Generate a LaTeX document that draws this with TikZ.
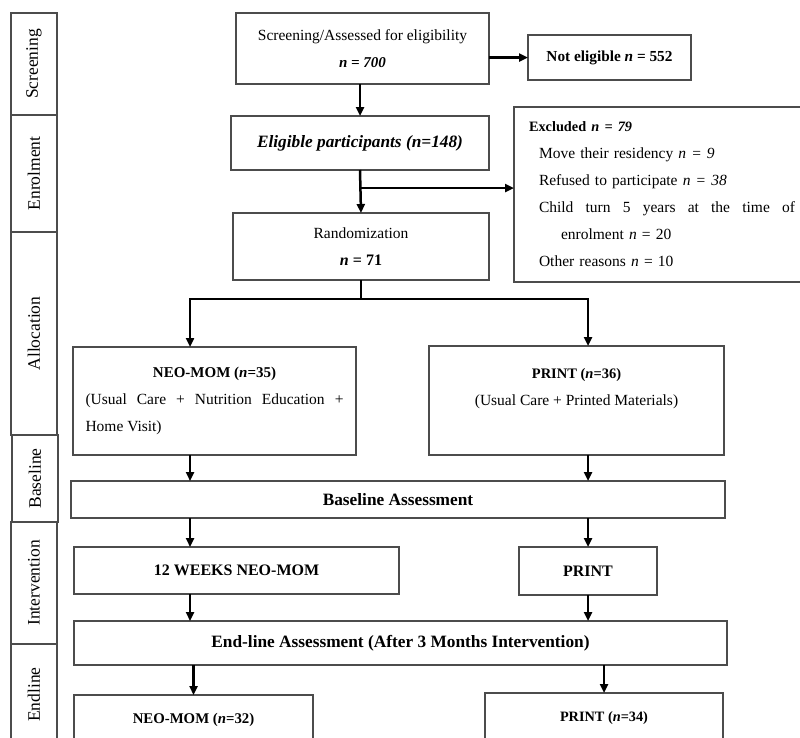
\documentclass[tikz,border=0pt]{standalone}
\usepackage{fontspec}
\setmainfont{Liberation Serif}
\usetikzlibrary{arrows.meta,positioning,calc}
\newcommand\txtsize{\fontsize{15.5}{27}\selectfont}
\newcommand\hdsize[1]{\fontsize{#1}{27}\selectfont\bfseries}
\begin{document}
\begin{tikzpicture}[x=1pt,y=-1pt,outer sep=0pt,
    box/.style={draw=black!70, line width=1.1pt, inner sep=0pt, align=center, font=\txtsize},
    hbox/.style={box, font=\hdsize{#1}}, hbox/.default=15,
    phase/.style={draw=black!70, line width=1.1pt, rotate=90, inner sep=0pt, minimum height=46pt, font=\fontsize{17.5}{20}\selectfont},
    arr/.style={line width=2.5pt, -{Triangle[width=8pt,length=9pt]}},
    trunk/.style={line width=2.5pt}]
    \useasboundingbox (0,0) rectangle (800,737);
    % phase bars on the left
    \node[phase, minimum width=102pt] (phScr) at (34,64)    {Screening};
    \node[phase, minimum width=117pt] (phEnr) at (34,173.5) {Enrolment};
    \node[phase, minimum width=203pt] (phAll) at (34,333.5) {Allocation};
    \node[phase, minimum width=87pt]  (phBas) at (35,478.5) {Baseline};
    \node[phase, minimum width=122pt] (phInt) at (34,583)   {Intervention};
    \node[phase, minimum width=101pt] (phEnd) at (34,694.5) {Endline};
    % flow boxes
    \node[box, minimum width=253pt, minimum height=71pt] (screen) at (362.5,48.5)
      {Screening/Assessed for eligibility\\ {\hdsize{15}\itshape n = 700}};
    \node[hbox=15.3, minimum width=163pt, minimum height=45pt] (notelig) at (609.5,57.5)
      {Not eligible \textit{n} = 552};
    \node[hbox=17.3, minimum width=258pt, minimum height=54pt] (elig) at (360,143)
      {\textit{Eligible participants (n=148)}};
    \node[box, anchor=north west, align=left, text width=281pt, inner xsep=15pt,
      minimum height=175pt] (excl) at (514,107)
      {{\hdsize{14.3}Excluded \textit{n = 79}}\\
       \hspace*{10pt}Move their residency \textit{n = 9}\\
       \hspace*{10pt}Refused to participate \textit{n = 38}\\
       \hspace*{10pt}\hbox to 256pt{Child\hfill turn\hfill 5\hfill years\hfill at\hfill the\hfill time\hfill of}\\
       \hspace*{32pt}enrolment \textit{n} = 20\\
       \hspace*{10pt}Other reasons \textit{n} = 10};
    \node[box, minimum width=256pt, minimum height=67pt] (rand) at (361,246.5)
      {Randomization\\ {\hdsize{16}\textit{n} = 71}};
    \node[box, align=left, minimum width=283pt, minimum height=108pt] (neo) at (214.5,401)
      {\hbox to 258pt{\hfill\hdsize{15}NEO-MOM (\textit{n}=35)\hfill}\\
       \hbox to 258pt{(Usual\hfill Care\hfill +\hfill Nutrition\hfill Education\hfill +}\\
       Home Visit)};
    \node[box, minimum width=295pt, minimum height=109pt] (print) at (576.5,400.5)
      {{\hdsize{14.5}PRINT (\textit{n}=36)}\\ (Usual Care + Printed Materials)\\ \mbox{}};
    \node[hbox=17.3, minimum width=654pt, minimum height=37pt] (base) at (398,499.5)
      {Baseline Assessment};
    \node[hbox=16, minimum width=325pt, minimum height=47pt] (weeks) at (236.5,570.5)
      {12 WEEKS NEO-MOM};
    \node[hbox=16, minimum width=138pt, minimum height=48pt] (printi) at (588,571)
      {PRINT};
    \node[hbox=17.3, minimum width=653pt, minimum height=44pt] (endl) at (400.5,643)
      {End-line Assessment (After 3 Months Intervention)};
    \node[hbox=14.8, anchor=north, minimum width=239pt, minimum height=50pt] (neoend) at (193.5,695)
      {NEO-MOM (\textit{n}=32)};
    \node[hbox=14.3, anchor=north, minimum width=238pt, minimum height=50pt] (printend) at (604,693)
      {PRINT (\textit{n}=34)};
    % columns of the two arms
    \coordinate (colL) at (190,0);
    \coordinate (colR) at (588,0);
    \coordinate (split) at ($(elig.south)!0.42!(rand.north)$);
    \coordinate (fork) at ($(rand.south)+(0,19)$);
    % connectors
    \draw[arr] (screen.south -| elig.north) -- (elig.north);
    \draw[arr] (screen.east |- notelig.west) -- (notelig.west);
    \draw[arr] (elig.south) -- (rand.north);
    \draw[arr] (split) -- (split -| excl.west);
    \draw[trunk] (rand.south) -- (fork);
    \draw[arr] (fork) -| (neo.north -| colL);
    \draw[arr] (fork) -| (print.north -| colR);
    \path[arr]%
      (neo.south -| colL) edge (base.north -| colL)
      (print.south -| colR) edge (base.north -| colR)
      (base.south -| colL) edge (weeks.north -| colL)
      (base.south -| colR) edge (printi.north -| colR)
      (weeks.south -| colL) edge (endl.north -| colL)
      (printi.south -| colR) edge (endl.north -| colR)
      (endl.south -| neoend.north) edge (neoend.north)
      (endl.south -| printend.north) edge (printend.north);
\end{tikzpicture}
\end{document}
